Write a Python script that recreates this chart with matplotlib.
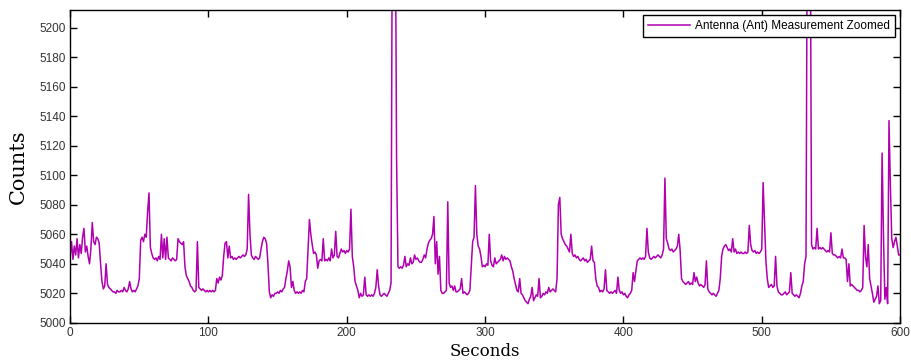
import numpy as np
import matplotlib
matplotlib.use("Agg")
import matplotlib.pyplot as plt

# antenna counts, one reading per second (0..600 s)
counts = [
    5045, 5055, 5043, 5052, 5046, 5057, 5044, 5053, 5047, 5058,
    5064, 5048, 5052, 5045, 5040, 5050, 5068, 5055, 5053, 5058,
    5057, 5054, 5040, 5028, 5023, 5025, 5040, 5026, 5024, 5023,
    5022, 5021, 5021, 5020, 5022, 5021, 5021, 5022, 5021, 5024,
    5022, 5021, 5023, 5028, 5023, 5021, 5022, 5021, 5023, 5025,
    5030, 5056, 5058, 5055, 5060, 5058, 5075, 5088, 5051, 5047,
    5044, 5043, 5044, 5042, 5045, 5043, 5060, 5044, 5057, 5043,
    5058, 5044, 5043, 5042, 5044, 5043, 5042, 5043, 5057, 5055,
    5054, 5053, 5055, 5038, 5032, 5030, 5028, 5025, 5024, 5022,
    5021, 5022, 5055, 5024, 5023, 5022, 5023, 5022, 5021, 5022,
    5021, 5022, 5021, 5022, 5021, 5022, 5030, 5027, 5031, 5029,
    5032, 5045, 5054, 5055, 5044, 5052, 5044, 5045, 5043, 5044,
    5043, 5044, 5045, 5044, 5045, 5046, 5045, 5046, 5050, 5087,
    5060, 5046, 5044, 5043, 5045, 5044, 5043, 5044, 5050, 5055,
    5058, 5057, 5054, 5040, 5021, 5017, 5019, 5018, 5020, 5020,
    5021, 5020, 5022, 5021, 5023, 5024, 5030, 5035, 5042, 5038,
    5024, 5028, 5022, 5020, 5021, 5020, 5021, 5020, 5022, 5021,
    5028, 5030, 5050, 5070, 5060, 5053, 5047, 5048, 5046, 5037,
    5042, 5043, 5042, 5057, 5042, 5043, 5042, 5044, 5042, 5050,
    5044, 5046, 5062, 5045, 5044, 5047, 5050, 5048, 5049, 5047,
    5049, 5048, 5050, 5077, 5045, 5038, 5028, 5025, 5022, 5017,
    5020, 5018, 5019, 5031, 5019, 5018, 5019, 5018, 5019, 5018,
    5020, 5024, 5036, 5025, 5019, 5018, 5019, 5020, 5019, 5018,
    5020, 5022, 5027, 5300, 5300, 5300, 5111, 5038, 5037, 5038,
    5037, 5039, 5045, 5038, 5040, 5039, 5044, 5040, 5041, 5046,
    5043, 5044, 5042, 5041, 5041, 5043, 5046, 5044, 5050, 5054,
    5056, 5057, 5060, 5072, 5040, 5055, 5033, 5045, 5022, 5020,
    5020, 5021, 5022, 5082, 5027, 5024, 5025, 5022, 5025, 5021,
    5021, 5022, 5023, 5030, 5020, 5021, 5020, 5019, 5020, 5022,
    5038, 5055, 5058, 5093, 5060, 5052, 5050, 5045, 5038, 5039,
    5038, 5040, 5039, 5060, 5042, 5039, 5038, 5044, 5040, 5041,
    5042, 5043, 5046, 5042, 5045, 5043, 5044, 5043, 5042, 5038,
    5035, 5030, 5026, 5022, 5021, 5030, 5020, 5019, 5017, 5015,
    5014, 5013, 5016, 5018, 5024, 5015, 5017, 5019, 5018, 5030,
    5017, 5018, 5020, 5019, 5021, 5020, 5024, 5021, 5022, 5023,
    5022, 5021, 5030, 5080, 5085, 5060, 5057, 5055, 5053, 5052,
    5050, 5048, 5060, 5047, 5045, 5046, 5044, 5045, 5043, 5042,
    5043, 5044, 5042, 5043, 5041, 5042, 5043, 5052, 5042, 5041,
    5030, 5025, 5024, 5021, 5022, 5021, 5023, 5036, 5022, 5021,
    5020, 5021, 5020, 5021, 5022, 5020, 5031, 5022, 5020, 5021,
    5019, 5020, 5018, 5017, 5019, 5020, 5022, 5034, 5028, 5035,
    5042, 5043, 5044, 5043, 5044, 5043, 5045, 5064, 5048, 5044,
    5043, 5044, 5045, 5044, 5045, 5046, 5045, 5044, 5046, 5050,
    5098, 5057, 5054, 5050, 5049, 5050, 5048, 5049, 5050, 5052,
    5060, 5049, 5030, 5028, 5027, 5026, 5027, 5028, 5026, 5027,
    5026, 5034, 5028, 5031, 5027, 5025, 5026, 5025, 5024, 5026,
    5042, 5023, 5021, 5020, 5019, 5020, 5019, 5018, 5020, 5022,
    5030, 5045, 5050, 5052, 5053, 5051, 5049, 5050, 5048, 5057,
    5048, 5050, 5047, 5048, 5047, 5048, 5047, 5047, 5048, 5047,
    5048, 5066, 5053, 5049, 5048, 5049, 5047, 5048, 5047, 5048,
    5050, 5095, 5069, 5042, 5030, 5024, 5025, 5026, 5024, 5025,
    5045, 5025, 5021, 5020, 5019, 5019, 5020, 5021, 5019, 5020,
    5021, 5034, 5020, 5019, 5018, 5019, 5018, 5017, 5020, 5025,
    5028, 5040, 5045, 5300, 5300, 5300, 5053, 5050, 5051, 5050,
    5064, 5050, 5051, 5050, 5051, 5050, 5049, 5048, 5049, 5048,
    5061, 5047, 5046, 5046, 5045, 5044, 5045, 5044, 5050, 5044,
    5044, 5043, 5028, 5040, 5025, 5026, 5025, 5024, 5023, 5022,
    5022, 5021, 5022, 5024, 5066, 5045, 5038, 5053, 5030, 5025,
    5020, 5014, 5016, 5018, 5025, 5013, 5015, 5115, 5060, 5016,
    5024, 5013, 5137, 5093, 5057, 5051, 5055, 5058, 5052, 5046,
    5046,
]
seconds = np.arange(len(counts))

fig = plt.figure(figsize=(9.11, 3.64), dpi=100)
ax = fig.add_axes([0.077, 0.113, 0.911, 0.86])

ax.plot(seconds, counts, color='#b000b0', linewidth=1.1,
        label='Antenna (Ant) Measurement Zoomed')

ax.set_xlim(0, 600)
ax.set_ylim(5000, 5212)
ax.set_xticks(range(0, 601, 100))
ax.set_yticks(range(5000, 5201, 20))
ax.tick_params(direction='in', top=True, right=True, length=5, width=1,
               labelsize=8.5, pad=3)
for lab in ax.get_xticklabels() + ax.get_yticklabels():
    lab.set_family('Liberation Sans')
    lab.set_color('#333333')
for sp in ax.spines.values():
    sp.set_linewidth(1.0)

ax.set_xlabel('Seconds', family='DejaVu Serif', fontsize=12, labelpad=3)
ax.set_ylabel('Counts', family='DejaVu Serif', fontsize=15, labelpad=8)

leg = ax.legend(loc='upper right', fontsize=8.5, fancybox=False,
                edgecolor='black', framealpha=1, borderaxespad=0.4,
                handlelength=3.6, handletextpad=0.4, borderpad=0.45)
leg.get_frame().set_linewidth(1.0)
for t in leg.get_texts():
    t.set_family('Liberation Sans')

fig.savefig('out.png', dpi=100)
